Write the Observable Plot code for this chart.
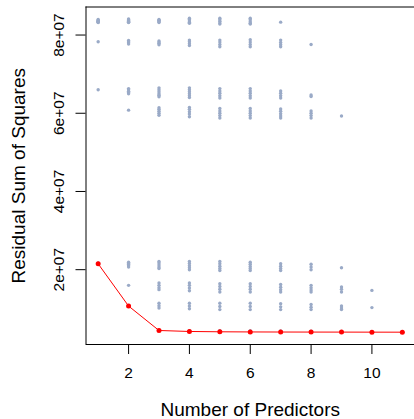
<!DOCTYPE html>
<html><head><meta charset="utf-8">
<script src="https://cdn.jsdelivr.net/npm/d3@7"></script>
<script src="https://cdn.jsdelivr.net/npm/@observablehq/plot@0.6"></script>
<style>html,body{margin:0;padding:0;background:#fff} svg{display:block}</style>
</head><body><div id="chart"></div>
<script>
// Number of predictors in the model
const predictors = [1, 2, 3, 4, 5, 6, 7, 8, 9, 10, 11];
// Smallest RSS for each model size (millions)
const bestRss = [21.5, 10.7, 4.45, 4.2, 4.12, 4.08, 4.06, 4.05, 4.04, 4.03, 4.02];
// RSS of all subsets of each size (millions)
const rssSize1 = [84.0, 83.8, 83.6, 83.5, 83.4, 83.3, 83.2, 78.3, 66.0, 21.7];
const rssSize2 = [84.1, 83.9, 83.7, 83.5, 83.3, 83.2, 78.6, 78.3, 78.0, 77.7, 66.3, 66.0, 65.6, 65.3, 65.0, 60.8, 21.9, 21.6, 21.3, 21.0, 20.7, 16.0];
const rssSize3 = [84.0, 83.8, 83.6, 83.4, 83.2, 78.5, 78.2, 77.9, 77.5, 66.5, 66.0, 65.5, 65.0, 64.6, 64.2, 61.4, 61.0, 60.5, 60.0, 59.5, 22.1, 21.7, 21.2, 20.7, 20.3, 16.6, 16.0, 15.4, 14.9, 11.4, 10.8, 10.2, 4.5];
const rssSize4 = [84.3, 84.0, 83.6, 83.3, 83.0, 78.7, 78.3, 77.8, 77.3, 66.5, 66.0, 65.5, 65.0, 64.5, 64.0, 61.5, 61.0, 60.4, 59.8, 59.1, 22.1, 21.6, 21.0, 20.5, 20.0, 16.6, 16.0, 15.3, 14.6, 11.4, 10.7, 10.0, 4.4, 4.3];
const rssSize5 = [84.3, 83.9, 83.5, 83.1, 82.8, 78.7, 78.2, 77.6, 77.0, 66.3, 65.7, 65.1, 64.5, 63.9, 61.2, 60.6, 60.0, 59.4, 58.8, 22.1, 21.5, 20.9, 20.3, 19.8, 16.4, 15.7, 15.0, 14.3, 11.4, 10.6, 9.8, 4.4, 4.25];
const rssSize6 = [84.3, 83.9, 83.4, 83.0, 82.8, 78.8, 78.2, 77.6, 77.0, 66.3, 65.7, 65.1, 64.5, 63.9, 61.2, 60.6, 60.0, 59.4, 58.8, 21.9, 21.4, 20.8, 20.3, 19.8, 16.4, 15.7, 15.0, 14.3, 11.4, 10.6, 9.8, 4.4, 4.2];
const rssSize7 = [83.3, 78.7, 78.1, 77.5, 77.0, 65.7, 65.1, 64.5, 63.9, 61.1, 60.5, 59.9, 59.3, 58.8, 21.5, 20.9, 20.3, 19.8, 16.2, 15.5, 14.9, 14.3, 11.3, 10.5, 9.8, 4.35, 4.2];
const rssSize8 = [77.6, 64.7, 64.3, 60.6, 60.0, 59.4, 58.8, 21.4, 20.7, 20.0, 16.0, 15.4, 14.8, 14.3, 11.1, 10.4, 9.8, 4.3, 4.15];
const rssSize9 = [59.3, 20.5, 15.6, 15.0, 14.3, 10.7, 10.2, 9.8, 4.2];
const rssSize10 = [14.7, 10.3, 4.15];
const rssSize11 = [];
// Axis ticks
const xTicks = [2, 4, 6, 8, 10];
const yTicks = [2e7, 4e7, 6e7, 8e7];
const yTickLabels = ["2e+07", "4e+07", "6e+07", "8e+07"];
const xTitle = "Number of Predictors";
const yTitle = "Residual Sum of Squares";

const allSizes = [rssSize1, rssSize2, rssSize3, rssSize4, rssSize5, rssSize6, rssSize7, rssSize8, rssSize9, rssSize10, rssSize11];
const subsets = allSizes.flatMap((vals, i) => vals.map(v => ({k: predictors[i], rss: v * 1e6})));
const best = predictors.map((k, i) => ({k, rss: bestRss[i] * 1e6}));

const font = "'Liberation Sans', Arial, Helvetica, sans-serif";
const yLo = 0.87e6, yHi = 87.17e6;

const chart = Plot.plot({
  width: 414, height: 419,
  marginLeft: 85.5, marginRight: 0, marginTop: 6.5, marginBottom: 75,
  style: {fontFamily: font, background: "white", color: "black", overflow: "visible"},
  x: {domain: [0.6, 11.4], axis: null},
  y: {domain: [yLo, yHi], axis: null},
  marks: [
    Plot.dot(subsets, {x: "k", y: "rss", r: 1.7, fill: "#9aaac7", stroke: null}),
    Plot.line(best, {x: "k", y: "rss", stroke: "red", strokeWidth: 1}),
    Plot.dot(best, {x: "k", y: "rss", r: 2.5, fill: "red", stroke: null}),
    Plot.ruleX([0.6], {stroke: "black"}),
    Plot.ruleY([yLo, yHi], {stroke: "black"}),
    Plot.axisY({ticks: yTicks, tickSize: 10, tickFormat: () => "", label: null}),
    Plot.text(yTicks, {y: d => d, text: (d, i) => yTickLabels[i], frameAnchor: "left", dx: -27, rotate: -90, textAnchor: "middle", lineAnchor: "middle", fontSize: 15.5}),
    Plot.axisX({ticks: xTicks, tickSize: 10, tickFormat: () => "", label: null}),
    Plot.text(xTicks, {x: d => d, text: d => String(d), frameAnchor: "bottom", dy: 29, textAnchor: "middle", lineAnchor: "middle", fontSize: 15.5}),
    Plot.text([xTitle], {text: d => d, frameAnchor: "bottom", dy: 65.5, textAnchor: "middle", lineAnchor: "middle", fontSize: 19}),
    Plot.text([yTitle], {text: d => d, frameAnchor: "left", dx: -67, rotate: -90, textAnchor: "middle", lineAnchor: "middle", fontSize: 19})
  ]
});
document.getElementById("chart").appendChild(chart);
</script>
</body></html>
